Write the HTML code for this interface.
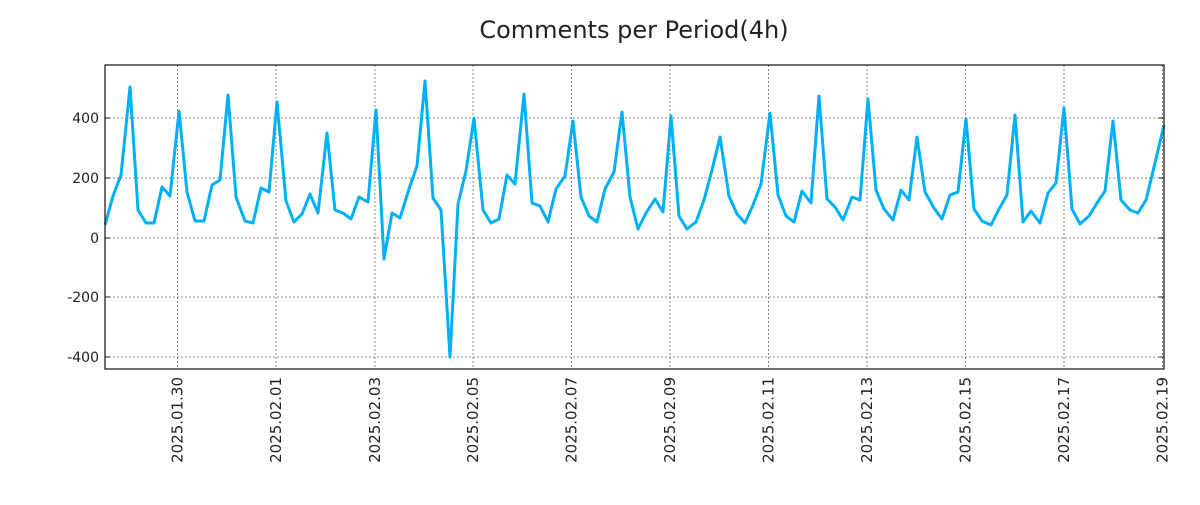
<!DOCTYPE html>
<html><head><meta charset="utf-8"><style>
body{margin:0;background:#fff;}
svg text{font-family:"DejaVu Sans","Liberation Sans",sans-serif;fill:#222;}
</style></head><body>
<svg width="1200" height="500" viewBox="0 0 1200 500" xmlns="http://www.w3.org/2000/svg">
<rect width="1200" height="500" fill="#fff"/>
<text x="634" y="38" font-size="24" text-anchor="middle">Comments per Period(4h)</text>
<g stroke="#888" stroke-width="1" stroke-dasharray="2,2">
<line x1="105" x2="1164" y1="118" y2="118"/><line x1="105" x2="1164" y1="178" y2="178"/>
<line x1="105" x2="1164" y1="238" y2="238"/><line x1="105" x2="1164" y1="297" y2="297"/>
<line x1="105" x2="1164" y1="357" y2="357"/>
<line x1="177.5" x2="177.5" y1="65" y2="369"/><line x1="276" x2="276" y1="65" y2="369"/>
<line x1="375" x2="375" y1="65" y2="369"/><line x1="473" x2="473" y1="65" y2="369"/>
<line x1="571.5" x2="571.5" y1="65" y2="369"/><line x1="670" x2="670" y1="65" y2="369"/>
<line x1="768.5" x2="768.5" y1="65" y2="369"/><line x1="867" x2="867" y1="65" y2="369"/>
<line x1="965.5" x2="965.5" y1="65" y2="369"/><line x1="1064" x2="1064" y1="65" y2="369"/>
<line x1="1162.5" x2="1162.5" y1="65" y2="369"/>
</g>
<polyline fill="none" stroke="#00b0f6" stroke-width="3" stroke-linejoin="round" points="105,225 113,196 121,175 130,87 138,210 146,223 154,223 162,187 170,196 179,111 187,192 195,221 204,221 212,185 220,180 228,95 236,197 245,221 253,223 261,188 269,192 277,102 286,201 294,222 302,214 310,194 318,213 327,133 335,210 343,213 351,219 359,197 368,202 376,110 384,259 392,213 400,218 409,189 417,166 425,81 433,198 441,210 450,357 458,204 466,171 474,118 483,210 491,223 499,219 507,175 515,184 524,94 532,203 540,206 548,222 556,189 565,176 573,121 581,197 589,216 597,222 605,189 614,172 622,112 630,197 638,229 646,213 655,199 663,212 671,116 679,216 687,229 696,222 704,200 712,170 720,137 729,196 737,214 745,223 753,205 761,184 770,113 778,195 786,216 794,222 802,191 811,203 819,96 827,199 835,207 843,220 852,197 860,200 868,99 876,190 884,209 893,220 901,190 909,200 917,137 925,192 934,208 942,219 950,195 958,192 966,119 974,209 982,221 991,225 999,209 1007,195 1015,115 1023,222 1031,211 1040,223 1048,193 1056,183 1064,108 1072,209 1080,224 1089,216 1097,203 1105,191 1113,121 1121,200 1130,210 1138,213 1146,200 1155,163 1164,125"/>
<rect x="105" y="65" width="1059" height="304" fill="none" stroke="#222" stroke-width="1.3"/>
<g stroke="#222" stroke-width="1">
<line x1="105" x2="110" y1="118" y2="118"/><line x1="105" x2="110" y1="178" y2="178"/><line x1="105" x2="110" y1="238" y2="238"/><line x1="105" x2="110" y1="297" y2="297"/><line x1="105" x2="110" y1="357" y2="357"/>
<line x1="1159" x2="1164" y1="118" y2="118"/><line x1="1159" x2="1164" y1="178" y2="178"/><line x1="1159" x2="1164" y1="238" y2="238"/><line x1="1159" x2="1164" y1="297" y2="297"/><line x1="1159" x2="1164" y1="357" y2="357"/>
</g>
<g id="xt" stroke="#222" stroke-width="1"></g>
<g font-size="14" text-anchor="end">
<text x="99" y="123">400</text><text x="99" y="183">200</text><text x="99" y="243">0</text><text x="99" y="302">-200</text><text x="99" y="362">-400</text>
</g>
<g font-size="15" text-anchor="end">
<text transform="translate(182.5,377) rotate(-90)">2025.01.30</text>
<text transform="translate(281,377) rotate(-90)">2025.02.01</text>
<text transform="translate(380,377) rotate(-90)">2025.02.03</text>
<text transform="translate(478,377) rotate(-90)">2025.02.05</text>
<text transform="translate(576.5,377) rotate(-90)">2025.02.07</text>
<text transform="translate(675,377) rotate(-90)">2025.02.09</text>
<text transform="translate(773.5,377) rotate(-90)">2025.02.11</text>
<text transform="translate(872,377) rotate(-90)">2025.02.13</text>
<text transform="translate(970.5,377) rotate(-90)">2025.02.15</text>
<text transform="translate(1069,377) rotate(-90)">2025.02.17</text>
<text transform="translate(1167.5,377) rotate(-90)">2025.02.19</text>
</g>
<script>
var g=document.getElementById('xt'),s='';
for(var i=-3;i<44;i++){var x=177.5+i*24.6;if(x<106||x>1163)continue;var L=(i%4==0)?6:3;
s+='<line x1="'+x+'" x2="'+x+'" y1="369" y2="'+(369-L)+'"/><line x1="'+x+'" x2="'+x+'" y1="65" y2="'+(65+L)+'"/>';}
g.innerHTML=s;
</script>
</svg>
</body></html>
